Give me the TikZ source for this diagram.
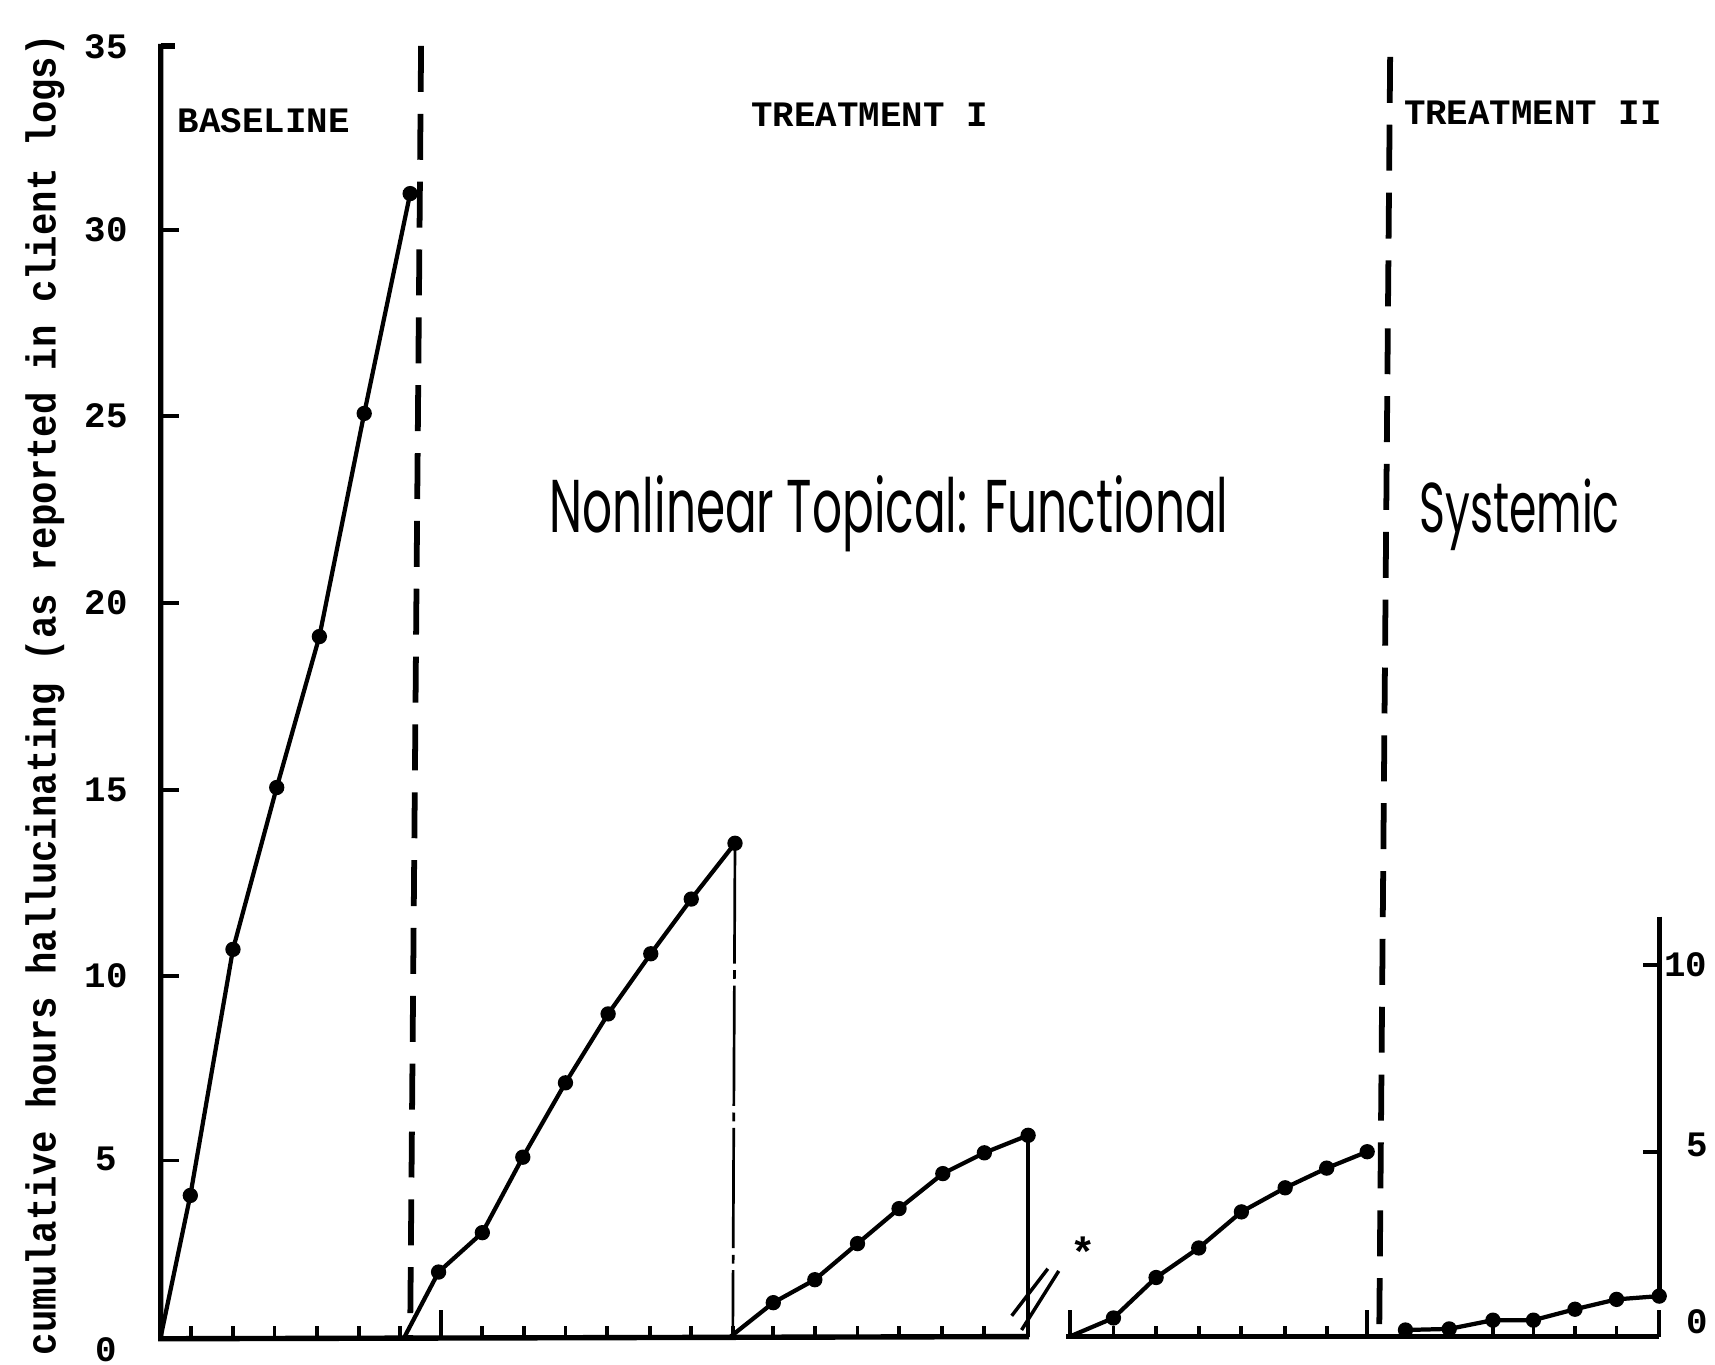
\documentclass[tikz,border=0pt]{standalone}
\usepackage{fontspec}
\usepackage{graphicx}
\newfontfamily\tw{Liberation Mono}
\newfontfamily\bigsans{Poppins}
\begin{document}
\begin{tikzpicture}[x=0.01cm,y=-0.01cm,
  dat/.style={line width=1.1pt},
  ax/.style={line width=1.4pt},
  tk/.style={line width=1pt},
  mk/.style={radius=0.07cm},
  phase/.style={line width=1.5pt,dash pattern=on 0.42cm off 0.2cm},
  lab/.style={font=\tw\bfseries\fontsize{9.3}{10}\selectfont,inner sep=0},
  big/.style={inner sep=0,anchor=base west}]
\useasboundingbox[fill=white] (0,0) rectangle (1568,1248);

% left axis
\draw[ax] (147,40) -- (147,1224) -- (941,1222);
\draw[ax] (147,42) -- (160,42);
\foreach \yy in {210,380,551,722,892,1061} \draw[tk] (147,\yy) -- (164,\yy);
\foreach \yy/\t in {43/35,210/30,380/25,551/20,722/15,892/10,1060/5,1234/0}
  \node[lab] (yt\t) at (97,\yy) {\t};

% second baseline segment and right axis
\draw[ax] (975,1222) -- (1517,1222);
\draw[ax] (1517,838) -- (1517,1185);
\draw[tk] (1517,882) -- (1502,882);
\draw[tk] (1517,1053) -- (1502,1053);
\node[lab] (r10) at (1541,882) {10};
\node[lab] (r5) at (1552,1047) {5};
\node[lab] (r0) at (1552,1208) {0};

% session ticks
\foreach \xx in {175,213,251,290,328,366,441,479,517,555,594,632,670,707,745,784,822,861,900,940,
                 1018,1057,1096,1135,1175,1213,1285,1325,1365,1402,1440,1478}
  \draw[tk] (\xx,1222) -- (\xx,1212);
\foreach \xx in {403,978,1250,1517}
  \draw[tk] (\xx,1222) -- (\xx,1198);

% phase lines
\draw[phase] (385,42) -- (375,1222);
\draw[phase] (1271,52) -- (1261,1222);
\draw[line width=0.7pt,dash pattern=on 1.1cm off 0.06cm on 0.08cm off 0.06cm] (672,771) -- (670,1222);
\draw[line width=0.9pt] (940,1038) -- (940,1222);

% break marks
\draw[line width=0.9pt] (925,1203) -- (958,1160);
\draw[line width=0.9pt] (934,1216) -- (968,1162);
\node[lab,font=\tw\bfseries\fontsize{11}{12}\selectfont] (star) at (990,1145) {*};

% data series
\draw[dat] plot coordinates {(147,1222) (174,1093) (213,868) (253,720) (292,582) (333,378) (375,177)};
\draw[line width=1.8pt] (368,177) -- (386,177);
\foreach \p in {(174,1093),(213,868),(253,720),(292,582),(333,378),(375,177)}
  \fill \p circle[mk];

\draw[dat] plot coordinates {(370,1222) (401,1163) (441,1127) (478,1058) (517,990) (556,927) (595,872) (632,822) (672,771)};
\foreach \p in {(401,1163),(441,1127),(478,1058),(517,990),(556,927),(595,872),(632,822),(672,771)}
  \fill \p circle[mk];

\draw[dat] plot coordinates {(668,1222) (707,1191) (745,1170) (784,1137) (822,1105) (862,1073) (900,1054) (940,1038)};
\foreach \p in {(707,1191),(745,1170),(784,1137),(822,1105),(862,1073),(900,1054),(940,1038)}
  \fill \p circle[mk];

\draw[dat] plot coordinates {(978,1222) (1018,1205) (1057,1168) (1096,1141) (1135,1108) (1175,1086) (1213,1068) (1250,1053)};
\foreach \p in {(1018,1205),(1057,1168),(1096,1141),(1135,1108),(1175,1086),(1213,1068),(1250,1053)}
  \fill \p circle[mk];

\draw[dat] plot coordinates {(1285,1216) (1325,1215) (1365,1207) (1402,1207) (1440,1197) (1478,1188) (1517,1185)};
\foreach \p in {(1285,1216),(1325,1215),(1365,1207),(1402,1207),(1440,1197),(1478,1188),(1517,1185)}
  \fill \p circle[mk];

% texts
\node[lab,anchor=west] (bl) at (162,110) {BASELINE};
\node[lab] (t1) at (795,105) {TREATMENT I};
\node[lab,anchor=west] (t2) at (1283,103) {TREATMENT II};
\node[rotate=90,inner sep=0,font=\tw\bfseries\fontsize{9.7}{10}\selectfont] (yl) at (41,635)
  {\scalebox{1}[1.12]{cumulative hours hallucinating (as reported in client logs)}};
\node[big] (nt) at (502,487) {\resizebox{6.2cm}{0.52cm}{\bigsans Nonlinear Topical: Functional}};
\node[big] (sy) at (1297,487) {\resizebox{1.83cm}{0.49cm}{\bigsans Systemic}};
\end{tikzpicture}
\end{document}
